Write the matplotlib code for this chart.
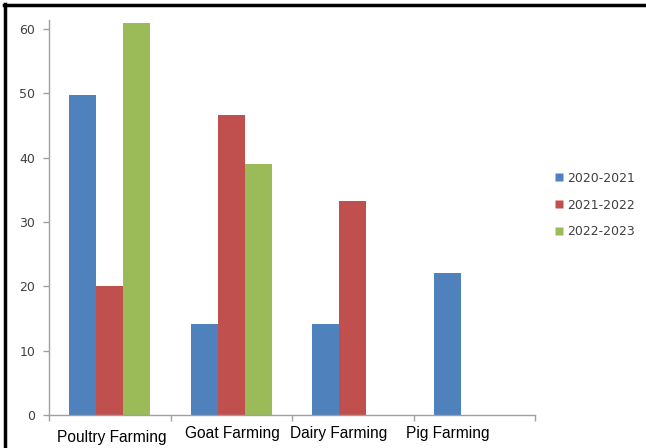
import matplotlib
matplotlib.use("Agg")
import matplotlib.pyplot as plt
import numpy as np
from matplotlib.lines import Line2D

plt.rcParams['font.family'] = ['Liberation Sans', 'DejaVu Sans']

# Data
categories = ['Poultry Farming', 'Goat Farming', 'Dairy Farming', 'Pig Farming']
seasons = ['2020-2021', '2021-2022', '2022-2023']
vals_2020 = [49.7, 14.2, 14.2, 22.0]
vals_2021 = [20.0, 46.6, 33.2, 0.0]
vals_2022 = [61.0, 39.0, 0.0, 0.0]
colors = ['#4F81BD', '#C0504D', '#9BBB59']

# label placement (they sit a bit off-center in the original)
label_x = [0.014, 1.006, 1.883, 2.78]
label_y = [-0.068, -0.058, -0.058, -0.058]

fig = plt.figure(figsize=(6.46, 4.48), dpi=100)
ax = fig.add_axes([49 / 646, 1 - 415 / 448, 486 / 646, 395 / 448])

x = np.arange(len(categories))
w = 1 / 4.5
for i, (vals, c) in enumerate(zip([vals_2020, vals_2021, vals_2022], colors)):
    ax.bar(x + (i - 1) * w, vals, width=w, color=c, edgecolor='none', label=seasons[i])

ax.set_xlim(-0.5, len(categories) - 0.5)
ax.set_ylim(0, 61.4)
ax.set_yticks(range(0, 61, 10))

# category boundaries as ticks, labels as separate text
ax.set_xticks(np.arange(-0.5, len(categories)))
ax.set_xticklabels([])
for lx, ly, name in zip(label_x, label_y, categories):
    ax.text(lx, ly, name, transform=ax.get_xaxis_transform(), ha='center',
            va='baseline', fontsize=11.2, color='black')

for s in ['top', 'right']:
    ax.spines[s].set_visible(False)
for s in ['left', 'bottom']:
    ax.spines[s].set_color('#A0A0A0')
    ax.spines[s].set_linewidth(1.0)
ax.tick_params(axis='both', color='#A0A0A0', length=4, width=1.0)
ax.tick_params(axis='y', labelsize=9, labelcolor='#404040', pad=6)
for t in ax.get_yticklabels():
    t.set_family('DejaVu Sans')

handles = [Line2D([], [], marker='s', linestyle='none', markersize=6,
                  markerfacecolor=c, markeredgecolor='none') for c in colors]
fig.legend(handles, seasons, loc='center left', bbox_to_anchor=(555 / 646, 1 - 205 / 448),
           frameon=False, labelspacing=1.1, handlelength=0.7,
           handletextpad=0.3, borderpad=0, borderaxespad=0, labelcolor='#404040',
           prop={'family': 'DejaVu Sans', 'size': 9})

# black frame on top and left edge
fig.add_artist(Line2D([4 / 646, 1], [1 - 5 / 448, 1 - 5 / 448], color='black', linewidth=2.5,
                      transform=fig.transFigure))
fig.add_artist(Line2D([5 / 646, 5 / 646], [0, 1 - 4 / 448], color='black', linewidth=2.5,
                      transform=fig.transFigure))

fig.savefig('out.png', dpi=100)
